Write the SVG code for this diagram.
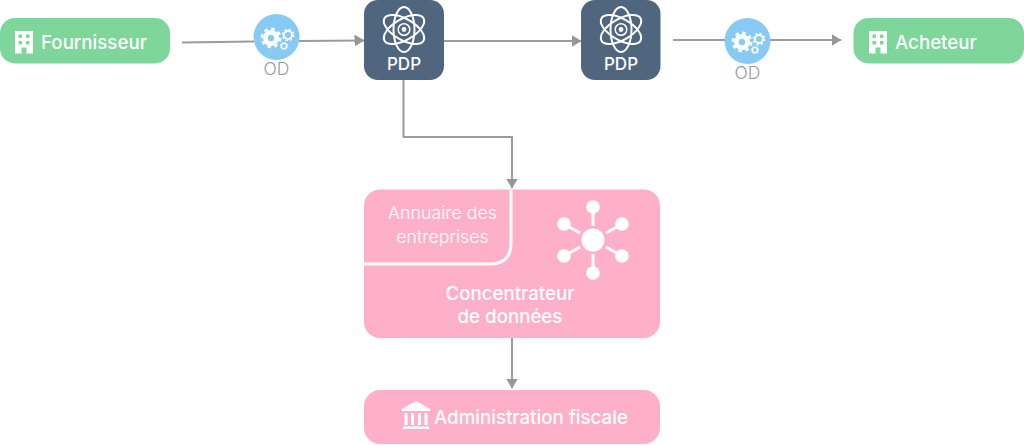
<svg xmlns="http://www.w3.org/2000/svg" xmlns:xlink="http://www.w3.org/1999/xlink" width="1024" height="445" viewBox="0 0 1024 445">
<style>
text{font-family:Inter,"Open Sans","Liberation Sans",sans-serif}
.label{fill:#fff;font-size:18.700px;font-weight:500}
.od{fill:#9a9a9a;font-size:17.500px;font-weight:300;text-anchor:middle}
.pdp{fill:#fff;font-size:17px;font-weight:500;text-anchor:middle}
.light{fill:#fff;font-size:17.800px;font-weight:300;text-anchor:middle}
.green{fill:#7ed69b}
.slate{fill:#50667f}
.pink{fill:#ffb0c9}
.blue{fill:#87caf4}
.conn{fill:none;stroke:#9c9c9c;stroke-width:2}
</style>
<defs>
<marker id="arrow" markerUnits="userSpaceOnUse" markerWidth="10" markerHeight="12" refX="9.500" refY="6" orient="auto"><path d="M0 0L10 6L0 12Z" fill="#979797"/></marker>
<g id="atom" fill="none" stroke="#fff" stroke-width="2">
<ellipse rx="10.500" ry="22.500"/><ellipse rx="10.500" ry="22.500" transform="rotate(60)"/><ellipse rx="10.500" ry="22.500" transform="rotate(-60)"/>
<circle r="5.800" stroke-width="1.500"/><circle r="2.400" fill="#fff" stroke="none"/>
</g>
<g id="gears" fill="none" stroke="#fff">
<circle cx="-5.500" cy="1" r="5.600" stroke-width="4.800"/><circle cx="-5.500" cy="1" r="9.200" stroke-width="2.500" stroke-dasharray="3.610 3.610"/>
<circle cx="11.500" cy="-2" r="4" stroke-width="1.800"/><circle cx="11.500" cy="-2" r="5.500" stroke-width="1.500" stroke-dasharray="2.160 2.160"/>
<circle cx="7.500" cy="9" r="2.600" stroke-width="1.400"/><circle cx="7.500" cy="9" r="3.600" stroke-width="1" stroke-dasharray="1.410 1.410"/>
</g>
<path id="building" fill="#fff" fill-rule="evenodd" d="M0 0H18V22.500H11.500V16.500H6.500V22.500H0ZM3.500 3.500V7H7V3.500ZM11 3.500V7H14.500V3.500ZM3.500 10V13.500H7V10ZM11 10V13.500H14.500V10Z"/>
</defs>
<g id="connectors">
<path class="conn" d="M182 42.500L254 41.500"/>
<path class="conn" d="M299 41L364 40.500" marker-end="url(#arrow)"/>
<path class="conn" d="M444 41H581" marker-end="url(#arrow)"/>
<path class="conn" d="M673 40H725"/>
<path class="conn" d="M770 40H841" marker-end="url(#arrow)"/>
<path class="conn" d="M403.500 80V137H512V188" marker-end="url(#arrow)"/>
<path class="conn" d="M512 338V388" marker-end="url(#arrow)"/>
</g>
<g id="fournisseur">
<rect class="green" x="0" y="18" width="170" height="45.500" rx="15"/>
<use xlink:href="#building" href="#building" x="15" y="31"/>
<text class="label" x="41" y="48.500">Fournisseur</text>
</g>
<g id="od-1">
<circle class="blue" cx="276.500" cy="37" r="23"/>
<use xlink:href="#gears" href="#gears" x="276.500" y="37"/>
<text class="od" x="276.500" y="75">OD</text>
</g>
<g id="pdp-1">
<rect class="slate" x="364" y="0" width="80" height="80" rx="14"/>
<use xlink:href="#atom" href="#atom" x="404" y="29.500"/>
<text class="pdp" x="404" y="70">PDP</text>
</g>
<g id="pdp-2">
<rect class="slate" x="581" y="0" width="79.500" height="80" rx="14"/>
<use xlink:href="#atom" href="#atom" x="621" y="29.500"/>
<text class="pdp" x="621" y="70">PDP</text>
</g>
<g id="od-2">
<circle class="blue" cx="747.500" cy="41" r="23"/>
<use xlink:href="#gears" href="#gears" x="747.500" y="41"/>
<text class="od" x="747.500" y="79">OD</text>
</g>
<g id="acheteur">
<rect class="green" x="853.500" y="18" width="170.500" height="45.500" rx="15"/>
<use xlink:href="#building" href="#building" x="869" y="31"/>
<text class="label" x="895" y="48.500">Acheteur</text>
</g>
<g id="concentrateur">
<rect class="pink" x="364" y="189.500" width="296" height="148.500" rx="16"/>
<path d="M511 190V243Q511 264 490 264H364" fill="none" stroke="#fff" stroke-width="3"/>
<text class="light" x="442.500" y="219">Annuaire des</text>
<text class="light" x="442.500" y="243">entreprises</text>
<g id="hub" fill="#fff">
<path d="M593 207V226M622 224L606 233M622 256L606 247M593 273V254M564 256L580 247M564 224L580 233" fill="none" stroke="#fff" stroke-width="3"/>
<circle cx="593" cy="240" r="11.500"/><circle cx="593" cy="207" r="6.800"/><circle cx="622" cy="224" r="6.800"/><circle cx="622" cy="256" r="6.800"/><circle cx="593" cy="273" r="6.800"/><circle cx="564" cy="256" r="6.800"/><circle cx="564" cy="224" r="6.800"/>
</g>
<text class="label" x="510" y="300" text-anchor="middle">Concentrateur</text>
<text class="label" x="510" y="323" text-anchor="middle">de données</text>
</g>
<g id="administration">
<rect class="pink" x="364" y="390" width="296" height="54" rx="16"/>
<path fill="#fff" d="M416 401L430 409V411H402V409ZM404.500 413H407.500V425H404.500ZM411 413H414V425H411ZM418 413H421V425H418ZM424.500 413H427.500V425H424.500ZM403 426.500H429V429H403Z"/>
<text class="label" x="434" y="424">Administration fiscale</text>
</g>
</svg>
